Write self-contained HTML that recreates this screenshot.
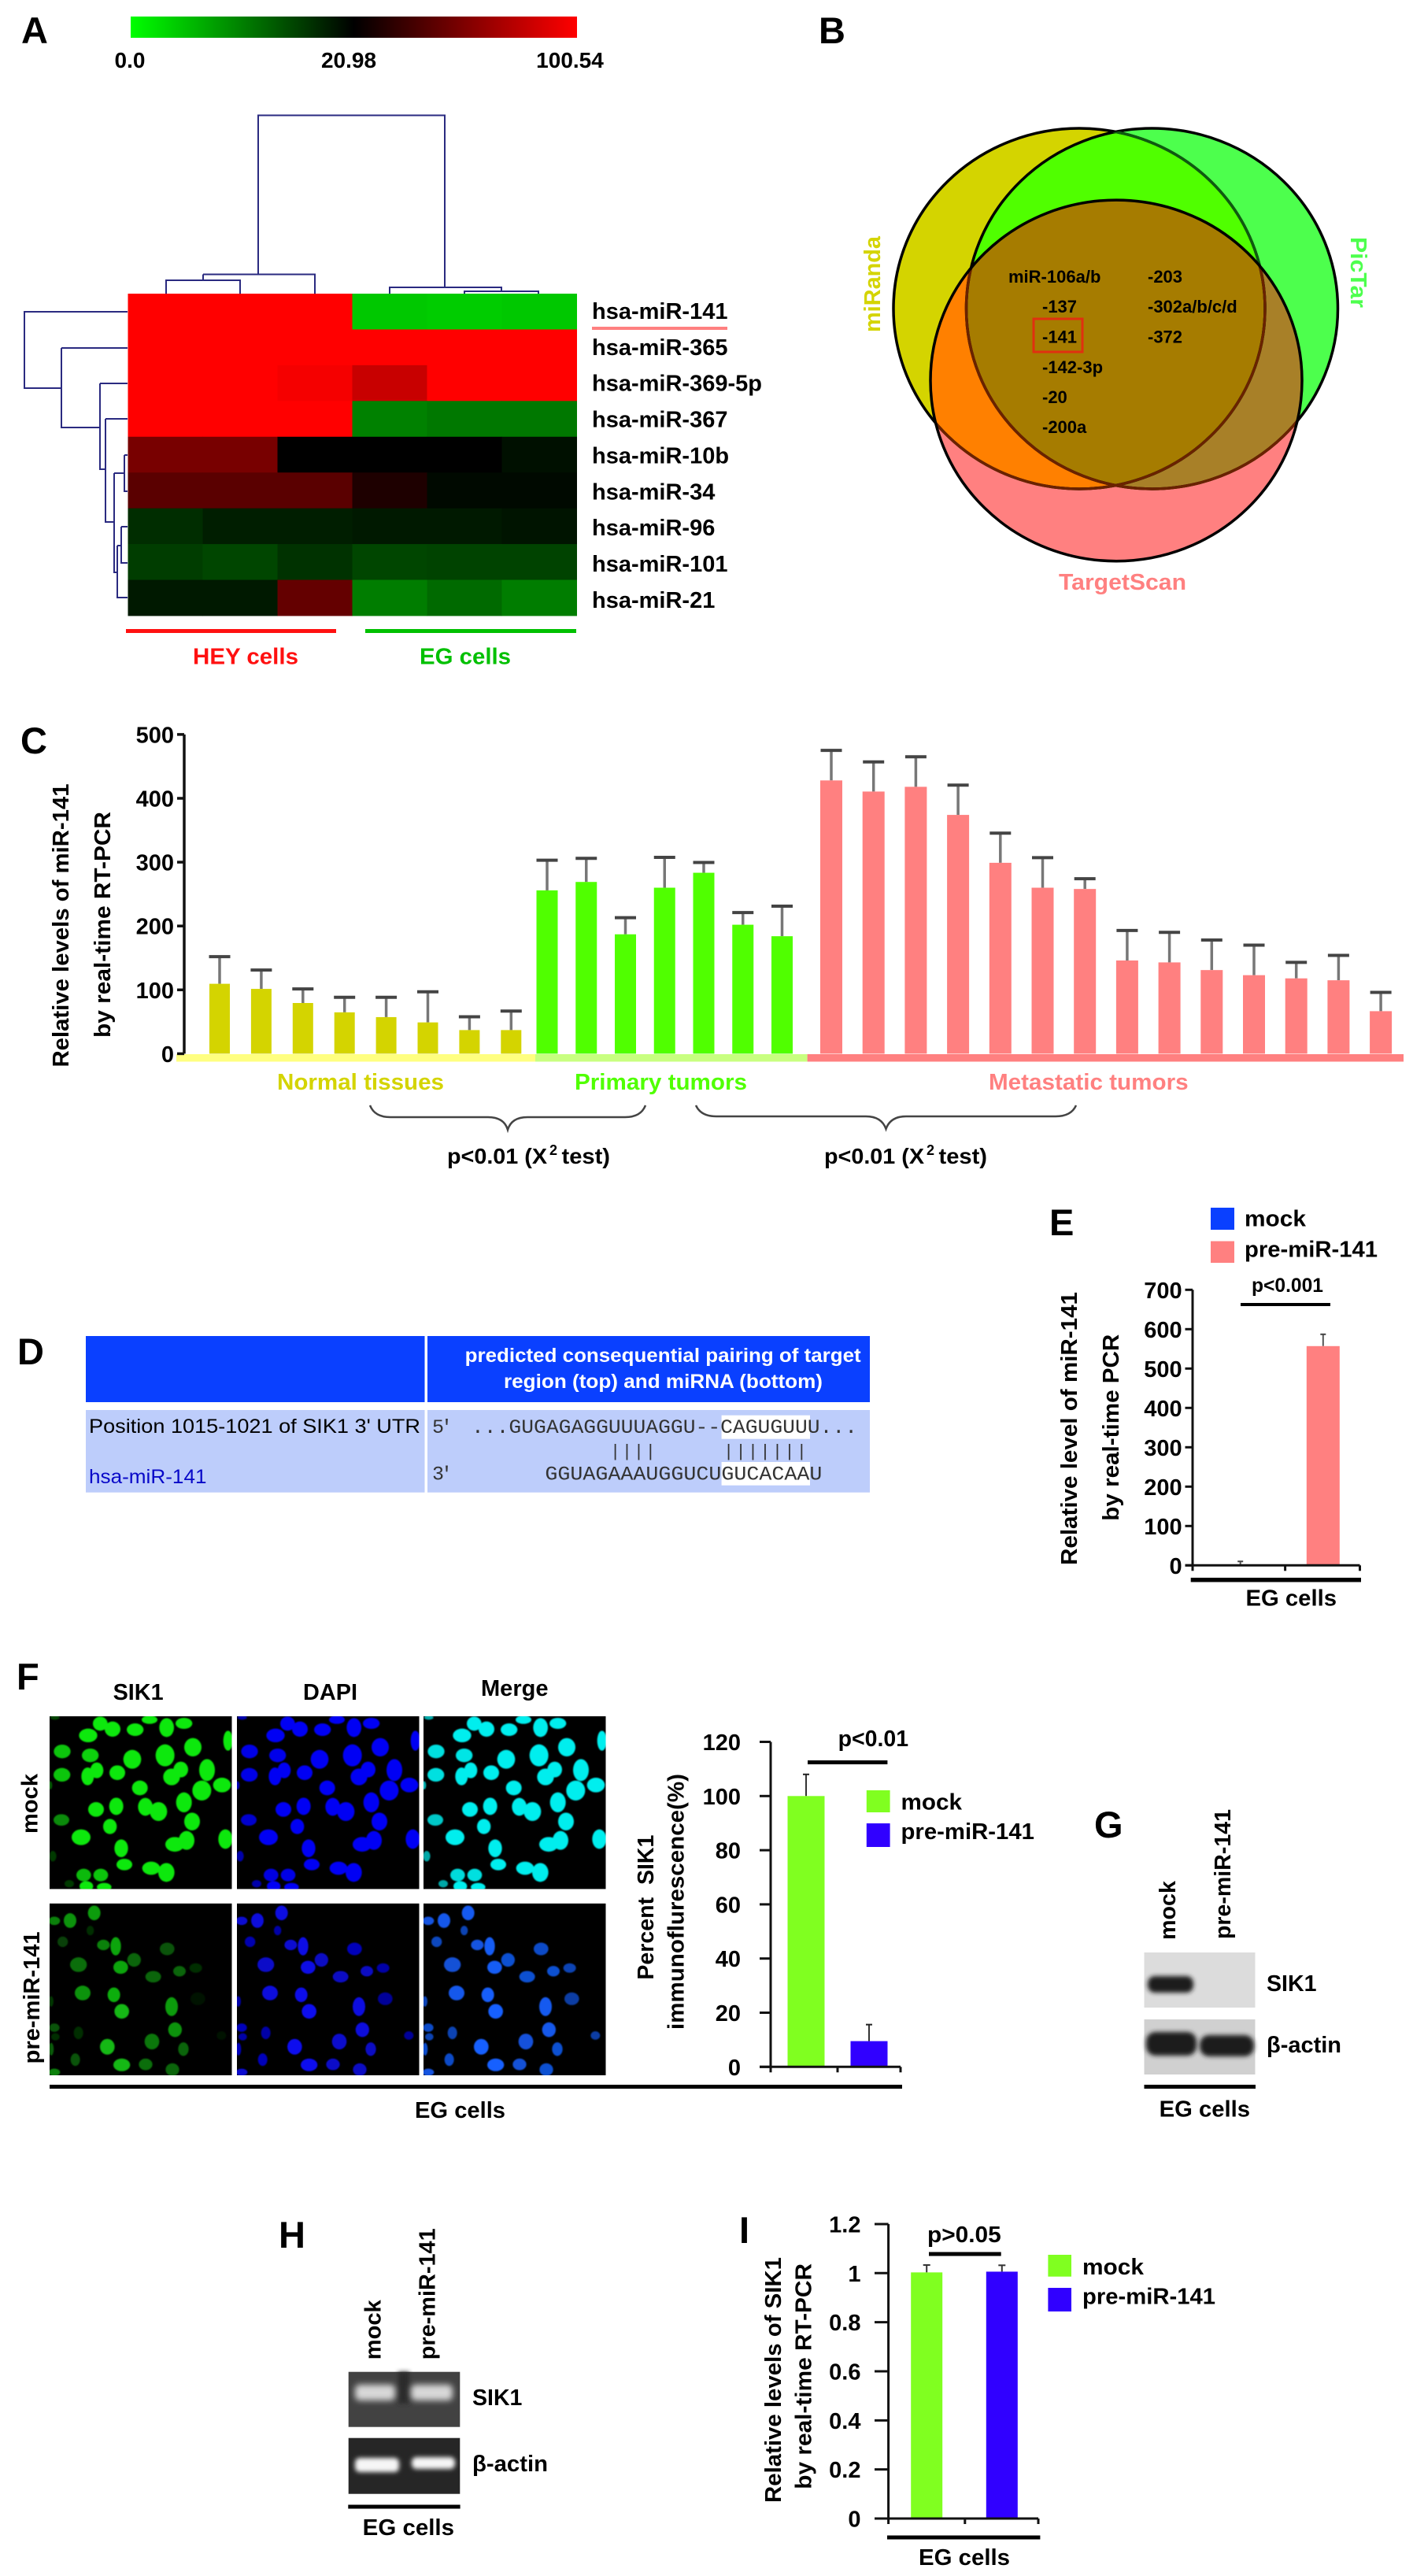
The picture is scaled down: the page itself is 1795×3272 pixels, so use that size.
<!DOCTYPE html>
<html lang="en">
<head>
<meta charset="utf-8">
<title>miR-141 and SIK1 figure</title>
<style>
html,body{margin:0;padding:0;background:#fff;}
svg{display:block;}
text{font-family:"Liberation Sans",sans-serif;font-weight:bold;font-size:29px;fill:#000;}
.panel-letter{font-size:47px;}
.mono{font-family:"Liberation Mono",monospace;font-weight:normal;fill:#333;}
.reg{font-weight:normal;}
</style>
</head>
<body>
<svg id="fig" xmlns="http://www.w3.org/2000/svg" width="1795" height="3272" viewBox="0 0 1795 3272">
<defs>
  <linearGradient id="cbar" x1="0" x2="1" y1="0" y2="0">
    <stop offset="0" stop-color="#00ff00"/><stop offset="0.5" stop-color="#000"/><stop offset="1" stop-color="#ff0000"/>
  </linearGradient>
  <clipPath id="clipA"><ellipse cx="1371" cy="392" rx="236" ry="229"/></clipPath>
  <clipPath id="clipC"><ellipse cx="1463.5" cy="392" rx="236" ry="229"/></clipPath>
  <clipPath id="clipT"><ellipse cx="1418" cy="483.4" rx="236" ry="229.3"/></clipPath>
  <filter id="blur1" x="-20%" y="-20%" width="140%" height="140%"><feGaussianBlur stdDeviation="0.8"/></filter>
  <filter id="blur3" x="-30%" y="-60%" width="160%" height="220%"><feGaussianBlur stdDeviation="3"/></filter>
  <filter id="blur4" x="-30%" y="-80%" width="160%" height="260%"><feGaussianBlur stdDeviation="4"/></filter>
</defs>
<rect width="1795" height="3272" fill="#fff"/>

<!-- Panel A -->
<g>
  <text class="panel-letter" x="27" y="55">A</text>
  <rect x="166" y="21" width="567" height="27" fill="url(#cbar)"/>
  <text x="165" y="86" text-anchor="middle" style="font-size:28px">0.0</text>
  <text x="443" y="86" text-anchor="middle" style="font-size:28px">20.98</text>
  <text x="724" y="86" text-anchor="middle" style="font-size:28px">100.54</text>
  <path fill="none" stroke="#2a2a80" stroke-width="2"
    d="M328,348.5V146.5H565V365M258,348.5H400V373M258,348.5V356M211,373V356H305V373M495,373V365H637V370M590,373V370H684V373"/>
  <path fill="none" stroke="#2a2a80" stroke-width="2"
    d="M162,396H31V493H78M78,442H162M78,442V543H127M127,487H162M127,487V596H134M134,532H162M134,532V663H145M145,601V727H149M145,601H158M158,578H162M158,578V624H162M149,693V759H162M149,693H154M154,669H162M154,669V715H162"/>
  <g id="heatmap"></g>
  <g id="heatmap-labels"></g>
  <rect x="752" y="415" width="172" height="4" fill="#ff8080"/>
  <rect x="160" y="799" width="267" height="5" fill="#ff1010"/>
  <rect x="464" y="799" width="268" height="5" fill="#00c000"/>
  <text x="245" y="843.5" textLength="134" lengthAdjust="spacingAndGlyphs" style="fill:#ff1010">HEY cells</text>
  <text x="533" y="843.5" textLength="116" lengthAdjust="spacingAndGlyphs" style="fill:#00c000">EG cells</text>
</g>

<!-- Panel B -->
<g>
  <text class="panel-letter" x="1040" y="55">B</text>
  <g>
    <ellipse cx="1371" cy="392" rx="236" ry="229" fill="#d4d400"/>
    <ellipse cx="1463.5" cy="392" rx="236" ry="229" fill="#4dff4d"/>
    <g clip-path="url(#clipA)"><ellipse cx="1463.5" cy="392" rx="236" ry="229" fill="#50ff00"/></g>
    <ellipse cx="1418" cy="483.4" rx="236" ry="229.3" fill="#ff8080"/>
    <g clip-path="url(#clipA)"><ellipse cx="1418" cy="483.4" rx="236" ry="229.3" fill="#ff8000"/></g>
    <g clip-path="url(#clipC)"><ellipse cx="1418" cy="483.4" rx="236" ry="229.3" fill="#a88028"/></g>
    <g clip-path="url(#clipA)"><g clip-path="url(#clipC)"><ellipse cx="1418" cy="483.4" rx="236" ry="229.3" fill="#a67c00"/></g></g>
    <g fill="none" stroke-width="3.5">
      <ellipse cx="1371" cy="392" rx="236" ry="229" stroke="#000"/>
      <ellipse cx="1463.5" cy="392" rx="236" ry="229" stroke="#000"/>
      <g clip-path="url(#clipC)"><ellipse cx="1371" cy="392" rx="236" ry="229" stroke="#0f5a10"/></g>
      <g clip-path="url(#clipT)">
        <ellipse cx="1371" cy="392" rx="236" ry="229" stroke="#6a2200"/>
        <ellipse cx="1463.5" cy="392" rx="236" ry="229" stroke="#6a2200"/>
      </g>
      <ellipse cx="1418" cy="483.4" rx="236" ry="229.3" stroke="#000"/>
    </g>
  </g>
  <g>
    <text x="1281" y="359" style="font-size:22px">miR-106a/b</text>
    <text x="1324" y="397" style="font-size:22px">-137</text>
    <text x="1324" y="435.5" style="font-size:22px">-141</text>
    <text x="1324" y="474" style="font-size:22px">-142-3p</text>
    <text x="1324" y="512" style="font-size:22px">-20</text>
    <text x="1324" y="550" style="font-size:22px">-200a</text>
    <text x="1458" y="359" style="font-size:22px">-203</text>
    <text x="1458" y="397" style="font-size:22px">-302a/b/c/d</text>
    <text x="1458" y="435.5" style="font-size:22px">-372</text>
  </g>
  <rect x="1313" y="405" width="62" height="42" fill="none" stroke="#e03010" stroke-width="3"/>
  <text transform="translate(1118,422) rotate(-90)" textLength="122" lengthAdjust="spacingAndGlyphs" style="fill:#d4d400">miRanda</text>
  <text transform="translate(1716,301) rotate(90)" textLength="90" lengthAdjust="spacingAndGlyphs" style="fill:#4dff4d">PicTar</text>
  <text x="1345" y="749" textLength="162" lengthAdjust="spacingAndGlyphs" style="fill:#ff8080">TargetScan</text>
</g>

<!-- Panel C -->
<g id="panel-c">
  <text class="panel-letter" x="26" y="957">C</text>
  <text transform="translate(87,1355.5) rotate(-90)" textLength="360" lengthAdjust="spacingAndGlyphs">Relative levels of miR-141</text>
  <text transform="translate(140,1318) rotate(-90)" textLength="287" lengthAdjust="spacingAndGlyphs">by real-time RT-PCR</text>
  <rect x="224" y="1339" width="456" height="9.5" fill="#ffff80"/>
  <rect x="680" y="1339" width="345.6" height="9.5" fill="#c8ff80"/>
  <rect x="1025.6" y="1339" width="757.4" height="9.5" fill="#ff8080"/>
  <text x="352" y="1384" textLength="212" lengthAdjust="spacingAndGlyphs" style="fill:#d4d400">Normal tissues</text>
  <text x="730" y="1384" textLength="219" lengthAdjust="spacingAndGlyphs" style="fill:#50ff00">Primary tumors</text>
  <text x="1256" y="1384" textLength="253.6" lengthAdjust="spacingAndGlyphs" style="fill:#ff8080">Metastatic tumors</text>
  <path fill="none" stroke="#444" stroke-width="2.5" d="M470,1404C474,1414 482,1419 496,1419L620,1419C634,1419 642,1425 645,1435C648,1425 656,1419 670,1419L794,1419C808,1419 816,1414 820,1404"/>
  <path fill="none" stroke="#444" stroke-width="2.5" d="M884,1404C888,1413 896,1418 910,1418L1100,1418C1114,1418 1122,1424 1125.5,1434C1129,1424 1137,1418 1151,1418L1341,1418C1355,1418 1363,1413 1367,1404"/>
  <g>
    <text x="568" y="1478" textLength="127" lengthAdjust="spacingAndGlyphs" style="font-size:28px">p&lt;0.01 (X</text>
    <text x="698" y="1467" style="font-size:18px">2</text>
    <text x="713.5" y="1478" textLength="61.5" lengthAdjust="spacingAndGlyphs" style="font-size:28px">test)</text>
  </g>
  <g>
    <text x="1047" y="1478" textLength="127" lengthAdjust="spacingAndGlyphs" style="font-size:28px">p&lt;0.01 (X</text>
    <text x="1177" y="1467" style="font-size:18px">2</text>
    <text x="1192.5" y="1478" textLength="61.5" lengthAdjust="spacingAndGlyphs" style="font-size:28px">test)</text>
  </g>
</g>

<!-- Panel D -->
<g>
  <text class="panel-letter" x="22" y="1733">D</text>
  <g>
    <rect x="109" y="1697" width="430.5" height="84" fill="#0a40ff"/>
    <rect x="543" y="1697" width="562" height="84" fill="#0a40ff"/>
    <rect x="109" y="1791" width="430.5" height="104.7" fill="#bdcdfb"/>
    <rect x="543" y="1791" width="562" height="104.7" fill="#bdcdfb"/>
    <rect x="916.6" y="1797.7" width="112.4" height="30" fill="#fff"/>
    <rect x="916.6" y="1857" width="112.4" height="29.7" fill="#fff"/>
    <text x="590.7" y="1730" textLength="503" lengthAdjust="spacingAndGlyphs" style="fill:#fff;font-size:25px">predicted consequential pairing of target</text>
    <text x="640" y="1763" textLength="405" lengthAdjust="spacingAndGlyphs" style="fill:#fff;font-size:25px">region (top) and miRNA (bottom)</text>
    <text class="reg" x="113" y="1820" textLength="421" lengthAdjust="spacingAndGlyphs" style="font-size:25px">Position 1015-1021 of SIK1 3' UTR</text>
    <text class="reg" x="113" y="1884" textLength="149.5" lengthAdjust="spacingAndGlyphs" style="font-size:25px;fill:#0808c8">hsa-miR-141</text>
    <text class="mono" x="549" y="1820" textLength="26" lengthAdjust="spacing" style="font-size:25px">5'</text>
    <text class="mono" x="599" y="1820" textLength="490" lengthAdjust="spacingAndGlyphs" style="font-size:25px">...GUGAGAGGUUUAGGU--CAGUGUUU...</text>
    <text class="mono" x="775" y="1850" textLength="58" lengthAdjust="spacing" style="font-size:22px">||||</text>
    <text class="mono" x="919" y="1850" textLength="106" lengthAdjust="spacing" style="font-size:22px">|||||||</text>
    <text class="mono" x="549" y="1879.3" textLength="26" lengthAdjust="spacing" style="font-size:25px">3'</text>
    <text class="mono" x="692.4" y="1879.3" textLength="352" lengthAdjust="spacingAndGlyphs" style="font-size:25px">GGUAGAAAUGGUCUGUCACAAU</text>
  </g>
</g>

<!-- Panel E -->
<g id="panel-e">
  <text class="panel-letter" x="1333" y="1569">E</text>
  <rect x="1538" y="1534" width="30" height="28" fill="#0a40ff"/>
  <text x="1581" y="1557.4" textLength="78" lengthAdjust="spacingAndGlyphs">mock</text>
  <rect x="1538" y="1576.5" width="30" height="27.5" fill="#ff8080"/>
  <text x="1581" y="1596.4" textLength="169" lengthAdjust="spacingAndGlyphs">pre-miR-141</text>
  <text x="1590" y="1641" textLength="91" lengthAdjust="spacingAndGlyphs" style="font-size:25px">p&lt;0.001</text>
  <rect x="1576" y="1655" width="114" height="4" fill="#000"/>
  <text transform="translate(1368,1988) rotate(-90)" textLength="347" lengthAdjust="spacingAndGlyphs">Relative level of miR-141</text>
  <text transform="translate(1421,1931.7) rotate(-90)" textLength="237" lengthAdjust="spacingAndGlyphs">by real-time PCR</text>
  <rect x="1512.7" y="2004" width="216.3" height="5.5" fill="#000"/>
  <text x="1582.5" y="2039.6" textLength="115.5" lengthAdjust="spacingAndGlyphs">EG cells</text>
</g>

<!-- Panel F -->
<g id="panel-f">
  <text class="panel-letter" x="21" y="2146">F</text>
  <text x="143.6" y="2159" textLength="64" lengthAdjust="spacingAndGlyphs">SIK1</text>
  <text x="385" y="2159" textLength="69" lengthAdjust="spacingAndGlyphs">DAPI</text>
  <text x="611" y="2154" textLength="85.5" lengthAdjust="spacingAndGlyphs">Merge</text>
  <text transform="translate(47.7,2329) rotate(-90)" textLength="76" lengthAdjust="spacingAndGlyphs">mock</text>
  <text transform="translate(50,2621.4) rotate(-90)" textLength="168" lengthAdjust="spacingAndGlyphs">pre-miR-141</text>
  <g id="micrographs"></g>
  <rect x="63" y="2648" width="1083" height="5" fill="#000"/>
  <text x="527" y="2690" textLength="115" lengthAdjust="spacingAndGlyphs">EG cells</text>
  <text xml:space="preserve" transform="translate(830,2514.6) rotate(-90)" textLength="184" lengthAdjust="spacingAndGlyphs">Percent  SIK1</text>
  <text transform="translate(868.5,2578) rotate(-90)" textLength="325" lengthAdjust="spacingAndGlyphs">immunoflurescence(%)</text>
  <text x="1064.6" y="2218" textLength="89.5" lengthAdjust="spacingAndGlyphs">p&lt;0.01</text>
  <rect x="1026" y="2236" width="101.4" height="5" fill="#000"/>
  <rect x="1100.8" y="2274" width="29.8" height="28" fill="#80ff20"/>
  <text x="1144.5" y="2298.7" textLength="77.5" lengthAdjust="spacingAndGlyphs">mock</text>
  <rect x="1100.8" y="2316" width="29.8" height="30" fill="#3000ff"/>
  <text x="1144.5" y="2336" textLength="169.5" lengthAdjust="spacingAndGlyphs">pre-miR-141</text>
</g>

<!-- Panel G -->
<g>
  <text class="panel-letter" x="1390" y="2334">G</text>
  <text transform="translate(1493,2464) rotate(-90)" textLength="75" lengthAdjust="spacingAndGlyphs">mock</text>
  <text transform="translate(1563,2463) rotate(-90)" textLength="165" lengthAdjust="spacingAndGlyphs">pre-miR-141</text>
  <g>
    <rect x="1453.5" y="2480" width="141" height="70" fill="#dcdcdc"/>
    <rect x="1458" y="2510" width="58" height="21" rx="9" fill="#1c1c1c" filter="url(#blur3)"/>
  </g>
  <g>
    <rect x="1453.5" y="2565" width="141" height="70" fill="#d0d0d0"/>
    <rect x="1456" y="2581" width="64" height="30" rx="12" fill="#1e1e1e" filter="url(#blur3)"/>
    <rect x="1524" y="2585" width="69" height="27" rx="12" fill="#1e1e1e" filter="url(#blur3)"/>
  </g>
  <text x="1609" y="2529" textLength="63.5" lengthAdjust="spacingAndGlyphs">SIK1</text>
  <text x="1609" y="2607" textLength="95" lengthAdjust="spacingAndGlyphs">β-actin</text>
  <rect x="1453.5" y="2648" width="141.5" height="5" fill="#000"/>
  <text x="1472.6" y="2688.6" textLength="115.4" lengthAdjust="spacingAndGlyphs">EG cells</text>
</g>

<!-- Panel H -->
<g>
  <text class="panel-letter" x="354" y="2855">H</text>
  <text transform="translate(483.6,2997.3) rotate(-90)" textLength="76" lengthAdjust="spacingAndGlyphs">mock</text>
  <text transform="translate(552.5,2997.3) rotate(-90)" textLength="167" lengthAdjust="spacingAndGlyphs">pre-miR-141</text>
  <g>
    <rect x="442.7" y="3012.7" width="141.6" height="70" fill="#424242"/>
    <rect x="506" y="3012.7" width="14" height="40" fill="#2c2c2c" filter="url(#blur3)"/>
    <rect x="451" y="3029" width="51" height="20" rx="6" fill="#d8d8d8" filter="url(#blur4)"/>
    <rect x="522" y="3029" width="53" height="20" rx="6" fill="#d8d8d8" filter="url(#blur4)"/>
  </g>
  <g>
    <rect x="442.7" y="3096.7" width="141.6" height="71" fill="#262626"/>
    <rect x="451" y="3122" width="56" height="18" rx="6" fill="#f6f6f6" filter="url(#blur3)"/>
    <rect x="523" y="3121" width="55" height="15" rx="6" fill="#f6f6f6" filter="url(#blur3)"/>
  </g>
  <text x="600" y="3055" textLength="63.4" lengthAdjust="spacingAndGlyphs">SIK1</text>
  <text x="600" y="3139" textLength="96" lengthAdjust="spacingAndGlyphs">β-actin</text>
  <rect x="442.3" y="3181.5" width="142.3" height="5" fill="#000"/>
  <text x="460.7" y="3220" textLength="116.3" lengthAdjust="spacingAndGlyphs">EG cells</text>
</g>

<!-- Panel I -->
<g id="panel-i">
  <text class="panel-letter" x="939" y="2849">I</text>
  <text transform="translate(992,3179) rotate(-90)" textLength="312" lengthAdjust="spacingAndGlyphs">Relative levels of SIK1</text>
  <text transform="translate(1030.7,3161.7) rotate(-90)" textLength="286.7" lengthAdjust="spacingAndGlyphs">by real-time RT-PCR</text>
  <text x="1178" y="2848" textLength="93.7" lengthAdjust="spacingAndGlyphs">p&gt;0.05</text>
  <rect x="1180" y="2860.5" width="91.7" height="5" fill="#000"/>
  <rect x="1331.4" y="2864" width="29.6" height="27.7" fill="#80ff20"/>
  <text x="1375" y="2889" textLength="78" lengthAdjust="spacingAndGlyphs">mock</text>
  <rect x="1331.4" y="2906" width="29.6" height="30" fill="#3000ff"/>
  <text x="1375" y="2926.7" textLength="169" lengthAdjust="spacingAndGlyphs">pre-miR-141</text>
  <rect x="1127" y="3220.5" width="194.4" height="5" fill="#000"/>
  <text x="1167" y="3258" textLength="116" lengthAdjust="spacingAndGlyphs">EG cells</text>
</g>
</svg>

<script>
/* ---------- Panel A data ---------- */
const heatmapRowNames = ['hsa-miR-141','hsa-miR-365','hsa-miR-369-5p','hsa-miR-367','hsa-miR-10b','hsa-miR-34','hsa-miR-96','hsa-miR-101','hsa-miR-21'];
const heatmapValues = [
  [100.54,100.54,100.54,4.5,4.2,4.5],
  [100.54,100.54,100.54,100.54,100.54,100.54],
  [100.54,100.54,97.4,83.4,100.54,100.54],
  [100.54,100.54,100.54,10.4,11.1,11.1],
  [58.4,58.4,20.98,20.98,20.98,19.7],
  [49,49,49,30.3,20.2,20.2],
  [17.3,18.5,18.5,18.9,18.9,19.3],
  [16,15.2,16.9,15.2,15.5,15.5],
  [18.9,18.9,52.2,10.7,12.3,10.7]
];
const heatmapMin = 0.0;
const heatmapMid = 20.98;
const heatmapMax = 100.54;

/* ---------- Panel C data ---------- */
const cTickValues = [0,100,200,300,400,500];
const cNormalValues = [109.5,101.5,79.4,64.8,57.3,49,37,37];
const cNormalUpper = [152,131,101.5,88.4,88.4,97,57.8,66.8];
const cPrimaryValues = [255.8,269,187,260,283.4,202,184];
const cPrimaryUpper = [303,306,213,307.5,299.5,221,231];
const cMetastaticValues = [428,410.6,418,374,299,260,258,146,143,131,123,118,115,66.6];
const cMetastaticUpper = [475,457,465,420.6,345.5,307,274,193,190,178,170,143,154,96];

/* ---------- Panel E data ---------- */
const eTickValues = [0,100,200,300,400,500,600,700];
const eCategories = ['mock','pre-miR-141'];
const eValues = [1,557];
const eUpper = [10,587];

/* ---------- Panel F data ---------- */
const fTickValues = [0,20,40,60,80,100,120];
const fCategories = ['mock','pre-miR-141'];
const fValues = [100,9.5];
const fUpper = [108,15.6];

/* ---------- Panel I data ---------- */
const iTickValues = [0,0.2,0.4,0.6,0.8,1,1.2];
const iCategories = ['mock','pre-miR-141'];
const iValues = [1.003,1.006];
const iUpper = [1.033,1.032];

/* ---------- Micrograph nuclei (image content, not chart data) ---------- */
const mockNuclei = [[203,45,28,27],[250,66,30,29],[157,90,35,26],[336,68,32,24],[391,30,30,16],[456,60,28,36],[522,44,32,21],[58,151,32,26,0.85],[165,166,32,26,0.9],[325,181,34,36],[450,166,36,42],[556,135,33,35],[690,110,18,38],[57,240,32,26,0.85],[155,246,24,34],[190,223,25,30],[268,232,30,28],[475,248,32,32],[510,220,28,30],[610,222,30,42],[354,290,30,28],[590,300,36,38],[667,279,34,28],[187,372,30,28],[264,360,27,33],[375,362,28,34],[425,380,33,36],[522,345,30,38],[55,412,30,22,0.6],[240,437,26,29],[553,418,30,34],[130,478,36,30],[283,520,26,34],[487,505,36,28],[532,490,30,36],[680,485,27,37],[295,582,30,22],[397,596,34,25],[455,612,31,36],[140,622,28,24,0.8],[205,622,28,24,0.85],[150,665,26,20],[218,668,28,16],[12,280,8,16,0.4],[22,550,14,20,0.25],[85,655,18,14,0.25],[30,22,18,8,0.3]];
const premirNuclei = [[28,83,22,16,0.7],[88,82,24,28,0.8],[180,53,24,28,0.85],[165,120,14,18,0.25],[60,163,20,20,0.35],[215,175,24,20,0.7],[262,180,20,35,0.9],[458,190,28,24,0.45],[120,250,32,28,0.6],[281,260,28,25,0.9],[332,232,26,26,0.55],[405,296,30,22,0.55],[505,275,24,20,0.55],[567,263,24,18,0.25],[136,358,30,28,0.8],[255,365,24,28,0.95],[285,428,28,28,1],[475,410,24,36,0.85],[488,498,26,28,0.8],[230,563,28,30,1],[400,543,28,30,0.65],[520,572,20,26,0.55],[28,490,20,16,0.45],[32,525,16,14,0.25],[120,510,18,24,0.25],[16,572,10,24,0.5],[108,612,18,24,0.45],[285,632,32,24,1],[376,630,26,22,0.6],[478,650,26,24,0.55],[28,660,22,14,0.7],[15,390,10,20,0.3],[575,380,28,24,0.1],[665,520,18,16,0.1]];

const NS = 'http://www.w3.org/2000/svg';
function mk(parent, tag, props) {
  const el = document.createElementNS(NS, tag);
  for (const k in props) el.setAttribute(k, props[k]);
  parent.appendChild(el);
  return el;
}

/* ---------- Heatmap ---------- */
function heatColor(v) {
  if (v <= heatmapMid) {
    const g = Math.round(255 * (1 - (v - heatmapMin) / (heatmapMid - heatmapMin)));
    return 'rgb(0,' + g + ',0)';
  }
  const r = Math.round(255 * (v - heatmapMid) / (heatmapMax - heatmapMid));
  return 'rgb(' + r + ',0,0)';
}
const hmX = c => 162.5 + c * 95;
const hmY = r => 373 + r * 45.44;
const hmG = document.getElementById('heatmap');
const hmL = document.getElementById('heatmap-labels');
heatmapValues.forEach((row, r) => {
  row.forEach((v, c) => {
    const cell = mk(hmG, 'rect', {x: hmX(c), y: hmY(r), width: 95.5, height: 45.9, fill: heatColor(v)});
    
    
  });
  const lab = mk(hmL, 'text', {x: 752, y: 405 + r * 45.85});
  lab.textContent = heatmapRowNames[r];
  
  
});

/* ---------- Generic chart drawing ---------- */
function drawYAxis(g, cfg, ticks, fmt) {
  const axis = mk(g, 'line', {x1: cfg.x0, x2: cfg.x0, y1: cfg.y(ticks[ticks.length - 1]), y2: cfg.y(ticks[0]), stroke: '#111', 'stroke-width': cfg.sw});
  
  
  ticks.forEach(t => {
    const tick = mk(g, 'line', {x1: cfg.tickLeft, x2: cfg.x0, y1: cfg.y(t), y2: cfg.y(t), stroke: '#111', 'stroke-width': cfg.sw});
    
    
    const lab = mk(g, 'text', {x: cfg.labelRight, y: cfg.y(t) + 10.5, 'text-anchor': 'end'});
    lab.textContent = fmt ? fmt(t) : String(t);
    
    
  });
}
function drawXAxis(g, cfg, xEnd, xMid) {
  const axis = mk(g, 'line', {x1: cfg.tickLeft, x2: xEnd, y1: cfg.y(0), y2: cfg.y(0), stroke: '#111', 'stroke-width': cfg.sw});
  
  
  [cfg.x0, xMid, xEnd].forEach(x => {
    const tick = mk(g, 'line', {x1: x, x2: x, y1: cfg.y(0), y2: cfg.y(0) + 7, stroke: '#111', 'stroke-width': cfg.sw});
    
    
  });
}
function drawBar(g, name, cx, w, v, up, y, fill, stemColor, capColor, stemW, capW, capH) {
  const stem = mk(g, 'line', {x1: cx, x2: cx, y1: y(up), y2: y(v), stroke: stemColor, 'stroke-width': stemW});
  
  
  const cap = mk(g, 'line', {x1: cx - capW / 2, x2: cx + capW / 2, y1: y(up), y2: y(up), stroke: capColor, 'stroke-width': capH});
  
  
  const bar = mk(g, 'rect', {x: cx - w / 2, y: y(v), width: w, height: Math.max(0, y(0) - y(v)), fill: fill});
  
  
}

/* Panel C */
(function () {
  const g = document.getElementById('panel-c');
  const y = v => 1338.4 - v * 0.811;
  const groups = [
    {name: 'normal', vals: cNormalValues, ups: cNormalUpper, x0: 279, step: 52.9, fill: '#d4d400', w: 26},
    {name: 'primary', vals: cPrimaryValues, ups: cPrimaryUpper, x0: 695, step: 49.75, fill: '#50ff00', w: 27},
    {name: 'metastatic', vals: cMetastaticValues, ups: cMetastaticUpper, x0: 1056, step: 53.7, fill: '#ff8080', w: 28}
  ];
  groups.forEach(gr => gr.vals.forEach((v, i) => {
    drawBar(g, gr.name + '-' + (i + 1), gr.x0 + i * gr.step, gr.w, v, gr.ups[i], y, gr.fill, '#777', '#444', 3.5, 27, 4);
  }));
  drawYAxis(g, {x0: 234, tickLeft: 225, labelRight: 221, y: y, sw: 3.5}, cTickValues);
})();

/* Panel E */
(function () {
  const g = document.getElementById('panel-e');
  const y = v => 1988.3 - v * 0.5;
  const x = i => 1575.7 + i * 105.1;
  const fills = ['#0a40ff', '#ff8080'];
  eCategories.forEach((c, i) => drawBar(g, c, x(i), 42, eValues[i], eUpper[i], y, fills[i], '#555', '#444', 2, 7, 2));
  const cfg = {x0: 1515, tickLeft: 1505.5, labelRight: 1501.7, y: y, sw: 3};
  drawYAxis(g, cfg, eTickValues);
  drawXAxis(g, cfg, 1727.5, 1632.6);
})();

/* Panel F chart */
(function () {
  const g = document.getElementById('panel-f');
  const y = v => 2625.3 - v * 3.44;
  const x = i => 1024 + i * 80;
  const fills = ['#80ff20', '#3000ff'];
  fCategories.forEach((c, i) => drawBar(g, c, x(i), 47, fValues[i], fUpper[i], y, fills[i], '#333', '#222', 2, 8, 2));
  const cfg = {x0: 979, tickLeft: 965, labelRight: 941, y: y, sw: 3};
  drawYAxis(g, cfg, fTickValues);
  drawXAxis(g, cfg, 1144, 1064);
})();

/* Panel I */
(function () {
  const g = document.getElementById('panel-i');
  const y = v => 3199 - v * 311.7;
  const x = i => 1177.2 + i * 95.6;
  const fills = ['#80ff20', '#3000ff'];
  iCategories.forEach((c, i) => drawBar(g, c, x(i), 40, iValues[i], iUpper[i], y, fills[i], '#333', '#333', 2, 9, 2));
  const cfg = {x0: 1128.6, tickLeft: 1111, labelRight: 1093.5, y: y, sw: 3};
  drawYAxis(g, cfg, iTickValues);
  drawXAxis(g, cfg, 1319, 1225.8);
})();

/* Micrographs */
(function () {
  const root = document.getElementById('micrographs');
  const cols = [{x: 63, n: 'sik1'}, {x: 301, n: 'dapi'}, {x: 538, n: 'merge'}];
  const rows = [
    {n: 'mock', y: 2180, h: 219.4, nuclei: mockNuclei, colors: ['#10e810', '#0606f4', '#00eeee'], sikScale: 1},
    {n: 'pre-mir-141', y: 2417.8, h: 218.2, nuclei: premirNuclei, colors: ['#14d814', '#0808ee', '#1460ff'], sikScale: 0.85}
  ];
  rows.forEach(r => cols.forEach((c, ci) => {
    const clipId = 'clip-' + r.n + '-' + c.n;
    const cp = mk(root, 'clipPath', {id: clipId});
    mk(cp, 'rect', {x: c.x, y: r.y, width: 231.5, height: r.h});
    const bg = mk(root, 'rect', {x: c.x, y: r.y, width: 231.5, height: r.h, fill: '#000'});
    
    
    const cg = mk(root, 'g', {'clip-path': 'url(#' + clipId + ')'});
    const inner = mk(cg, 'g', {filter: 'url(#blur1)', fill: r.colors[ci]});
    r.nuclei.forEach(n => {
      const level = n[4] === undefined ? 1 : n[4];
      const op = ci === 0 ? level * r.sikScale : 0.6 + 0.4 * level;
      mk(inner, 'ellipse', {cx: c.x + (n[0] - 10) / 3, cy: r.y + (n[1] - 17) / 3, rx: n[2] / 3, ry: n[3] / 3, opacity: op});
    });
  }));
})();
</script>
</body>
</html>
